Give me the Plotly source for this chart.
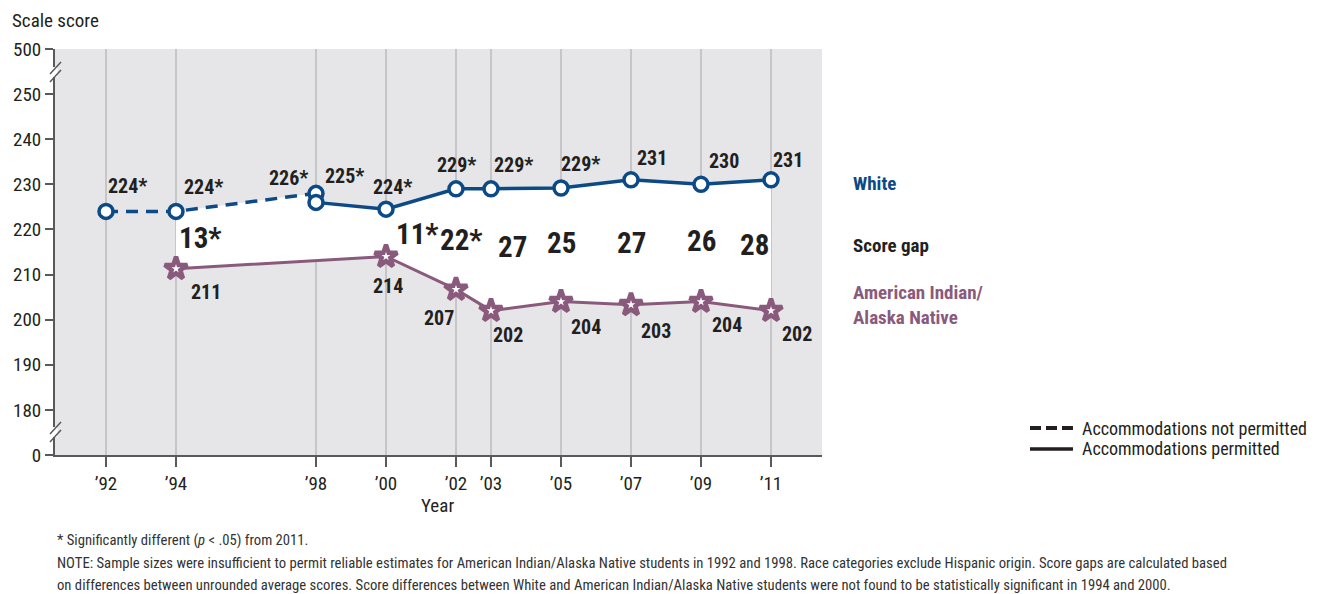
import plotly.graph_objects as go

# ---- data ----
years_white_np = [1992, 1994, 1998]          # accommodations not permitted
white_np = [224, 224, 228]
white_np_text = ["224*", "224*", "226*"]

years_white = [1998, 2000, 2002, 2003, 2005, 2007, 2009, 2011]   # accommodations permitted
white = [226, 224.5, 229, 229, 229.2, 231, 230, 231]
white_text = ["225*", "224*", "229*", "229*", "229*", "231", "230", "231"]

years_aian = [1994, 2000, 2002, 2003, 2005, 2007, 2009, 2011]
aian = [211.3, 214, 206.7, 202, 204, 203.3, 204, 202]
aian_text = ["211", "214", "207", "202", "204", "203", "204", "202"]

gap_years = [1994, 2000, 2002, 2003, 2005, 2007, 2009, 2011]
gap_text = ["13*", "11*", "22*", "27", "25", "27", "26", "28"]

tick_years = [1992, 1994, 1998, 2000, 2002, 2003, 2005, 2007, 2009, 2011]
tick_year_text = ["\u201992", "\u201994", "\u201998", "\u201900", "\u201902", "\u201903",
                  "\u201905", "\u201907", "\u201909", "\u201911"]
score_ticks = [170, 180, 190, 200, 210, 220, 230, 240, 250, 260]
score_tick_text = ["0", "180", "190", "200", "210", "220", "230", "240", "250", "500"]

footnotes = [
    "* Significantly different (<i>p</i> < .05) from 2011.",
    "NOTE: Sample sizes were insufficient to permit reliable estimates for American Indian/Alaska Native students in 1992 and 1998. "
    "Race categories exclude Hispanic origin. Score gaps are calculated based",
    "on differences between unrounded average scores. Score differences between White and American Indian/Alaska Native "
    "students were not found to be statistically significant in 1994 and 2000.",
]

# ---- style ----
FONT = "Liberation Sans Narrow, Roboto Condensed, DejaVu Sans Condensed, Arial Narrow, Roboto, sans-serif"
BLUE = "#0b4a86"
PURPLE = "#8a5a7d"
INK = "#231f20"
AXIS = "#58595b"

# label offsets (pixels) relative to each marker
white_np_shift = [(21, 25), (27, 24), (-28, 15)]
white_shift = [(28, 26), (6, 22), (0, 24), (22, 24), (19, 24), (21, 22), (23, 23), (17, 20)]
aian_shift = [(30, -23), (2, -29), (-17, -29), (17, -24), (25, -25), (25, -26), (26, -23), (26, -23)]
gap_pos = [(24, 218.1), (31, 219.0), (5, 217.6), (21, 216.2), (0, 217.1), (0, 217.0), (0, 217.4), (-17, 216.6)]

fig = go.Figure()

# white band between the two groups (1994-2011)
band_x = [1994, 1998] + years_white + years_aian[::-1]
band_y = [white_np[1], white_np[2]] + white + aian[::-1]
fig.add_trace(go.Scatter(x=band_x, y=band_y, fill="toself", fillcolor="white",
                         mode="none", hoverinfo="skip", showlegend=False))

fig.add_trace(go.Scatter(x=years_aian, y=aian, mode="lines+markers",
                         line=dict(color=PURPLE, width=3),
                         marker=dict(symbol="star", size=17, color="white",
                                     line=dict(color=PURPLE, width=4.5)),
                         showlegend=False))
fig.add_trace(go.Scatter(x=years_white_np, y=white_np, mode="lines+markers",
                         line=dict(color=BLUE, width=3.5, dash="12px,8px"),
                         marker=dict(symbol="circle", size=14, color="white",
                                     line=dict(color=BLUE, width=3.5)),
                         showlegend=False))
fig.add_trace(go.Scatter(x=years_white, y=white, mode="lines+markers",
                         line=dict(color=BLUE, width=3.5),
                         marker=dict(symbol="circle", size=14, color="white",
                                     line=dict(color=BLUE, width=3.5)),
                         showlegend=False))

ann = []
lab_font = dict(family=FONT, size=20, color=INK, weight="bold")
for xs, ys, ts, sh in [(years_white_np, white_np, white_np_text, white_np_shift),
                       (years_white, white, white_text, white_shift),
                       (years_aian, aian, aian_text, aian_shift)]:
    for x, y, t, (dx, dy) in zip(xs, ys, ts, sh):
        ann.append(dict(x=x, y=y, text=t, showarrow=False, xshift=dx, yshift=dy, font=lab_font))

for x, t, (dx, y) in zip(gap_years, gap_text, gap_pos):
    ann.append(dict(x=x, y=y, text=t, showarrow=False, xshift=dx,
                    font=dict(family=FONT, size=29, color=INK, weight="bold")))

# series names on the right
ann += [
    dict(xref="paper", x=1.038, y=230.1, text="White", xanchor="left", showarrow=False,
         font=dict(family=FONT, size=19, color=BLUE, weight="bold")),
    dict(xref="paper", x=1.038, y=216.4, text="Score gap", xanchor="left", showarrow=False,
         font=dict(family=FONT, size=19, color=INK, weight="bold")),
    dict(xref="paper", x=1.038, y=203.2, text="American Indian/<br>Alaska Native", xanchor="left",
         align="left", showarrow=False, font=dict(family=FONT, size=19, color=PURPLE, weight="bold")),
]

# titles, legend text, footnotes
ann += [
    dict(xref="paper", yref="paper", x=-0.0587, y=1.071, text="Scale score", xanchor="left",
         yanchor="middle", showarrow=False, font=dict(family=FONT, size=19, color=INK)),
    dict(xref="paper", yref="paper", x=0.4993, y=-0.1256, text="Year", yanchor="middle",
         showarrow=False, font=dict(family=FONT, size=19, color=INK)),
    dict(xref="paper", yref="paper", x=1.3364, y=0.0665, text="Accommodations not permitted",
         xanchor="left", yanchor="middle", showarrow=False, font=dict(family=FONT, size=18, color=INK)),
    dict(xref="paper", yref="paper", x=1.3364, y=0.0148, text="Accommodations permitted",
         xanchor="left", yanchor="middle", showarrow=False, font=dict(family=FONT, size=18, color=INK)),
]
for i, line in enumerate(footnotes):
    ann.append(dict(xref="paper", yref="paper", x=0, y=(455 - 540 - 22.5 * i) / 406, text=line,
                    xanchor="left", yanchor="middle", showarrow=False,
                    font=dict(family=FONT, size=14.7, color="#333333")))

shapes = [
    dict(type="line", xref="paper", yref="paper", x0=1.2712, x1=1.3272, y0=0.0665, y1=0.0665,
         line=dict(color=INK, width=4, dash="11px,5px")),
    dict(type="line", xref="paper", yref="paper", x0=1.2712, x1=1.3272, y0=0.0148, y1=0.0148,
         line=dict(color=INK, width=3.5)),
]
# axis break marks
for yb in [254.9, 175.1]:
    shapes.append(dict(type="line", xref="paper", yref="y", layer="above",
                       xsizemode="pixel", xanchor=0, x0=0, x1=0,
                       ysizemode="pixel", yanchor=yb, y0=-5, y1=5,
                       line=dict(color="white", width=5)))
    for off in [-4, 4]:
        shapes.append(dict(type="line", xref="paper", yref="y", layer="above",
                           xsizemode="pixel", xanchor=0, x0=-5, x1=6,
                           ysizemode="pixel", yanchor=yb, y0=off - 6, y1=off + 6,
                           line=dict(color=AXIS, width=1.5)))

fig.update_layout(
    width=1328, height=594,
    margin=dict(l=55, r=506, t=49, b=139),
    paper_bgcolor="white", plot_bgcolor="#e6e6e8",
    font=dict(family=FONT, size=19, color=INK),
    annotations=ann, shapes=shapes, showlegend=False,
    xaxis=dict(range=[1990.543, 2012.457], tickvals=tick_years, ticktext=tick_year_text,
               showgrid=True, gridcolor="#c6c6c8", gridwidth=2, zeroline=False,
               showline=True, linecolor=AXIS, linewidth=2,
               ticks="outside", ticklen=10, tickwidth=2, tickcolor=AXIS,
               tickfont=dict(family=FONT, size=19, color=INK)),
    yaxis=dict(range=[170, 260], tickvals=score_ticks, ticktext=score_tick_text,
               showgrid=False, zeroline=False, showline=True, linecolor=AXIS, linewidth=2,
               ticks="outside", ticklen=8, tickwidth=2, tickcolor=AXIS,
               tickfont=dict(family=FONT, size=19, color=INK)),
)

# drop the browser's default page margin so the figure sits at (0, 0)
fig.write_html("out.html", config={"displayModeBar": False},
               post_script="document.body.style.margin='0';")
